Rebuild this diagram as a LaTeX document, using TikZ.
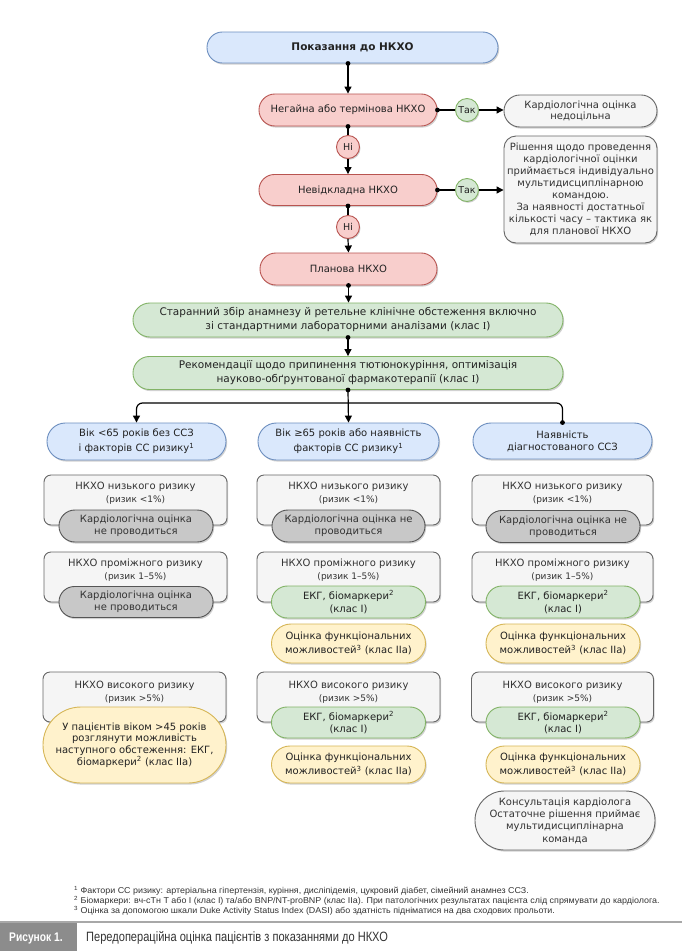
\documentclass[tikz,border=0pt]{standalone}
\usepackage{fontspec}
\setmainfont{DejaVu Sans}
\newfontfamily\serifI{Liberation Serif}
\newfontfamily\condfont[FakeStretch=0.82]{Liberation Sans}
\newfontfamily\fnfont[FakeStretch=1.05]{Liberation Sans}
\usetikzlibrary{arrows.meta,shadows}
\definecolor{bluef}{HTML}{DAE8FC}\definecolor{bluel}{HTML}{6C8EBF}
\definecolor{redf}{HTML}{F8CECC}\definecolor{redl}{HTML}{B85450}
\definecolor{greenf}{HTML}{D5E8D4}\definecolor{greenl}{HTML}{82B366}
\definecolor{yelf}{HTML}{FFF2CC}\definecolor{yell}{HTML}{D6B656}
\definecolor{greyf}{HTML}{F5F5F5}\definecolor{greyl}{HTML}{666666}
\definecolor{darkf}{HTML}{C8C8C8}\definecolor{darkl}{HTML}{555555}
\definecolor{txt}{HTML}{222222}\definecolor{txtg}{HTML}{333333}
\definecolor{rulec}{HTML}{A8A8A8}\definecolor{blockc}{HTML}{8C8C8C}
\tikzset{
  sz/.style 2 args={minimum width=#1pt, minimum height=#2pt},
  rc/.style={rounded corners=#1pt},
  box/.style={draw, line width=0.9pt, align=center, inner sep=0pt, text=txt,
    font=\fontsize{10}{11.7}\selectfont,
    drop shadow={shadow xshift=1.2pt, shadow yshift=-1.6pt, opacity=0.18, fill=black}},
  bbox/.style={box, fill=bluef, draw=bluel},
  rbox/.style={box, fill=redf, draw=redl},
  gbox/.style={box, fill=greenf, draw=greenl},
  ybox/.style={box, fill=yelf, draw=yell},
  lbox/.style={box, fill=greyf, draw=greyl, text=txtg},
  dbox/.style={box, fill=darkf, draw=darkl, text=txtg},
  obox/.style={box, fill=greyf, draw=greyl, rc=7},
  otext/.style={align=center, inner sep=0pt, text=txtg, font=\fontsize{10}{13}\selectfont},
  circ/.style={circle, line width=0.9pt, minimum size=23pt, inner sep=0pt, text=txt,
    font=\fontsize{9.5}{10}\selectfont,
    drop shadow={shadow xshift=1pt, shadow yshift=-1.3pt, opacity=0.18, fill=black}},
  gcirc/.style={circ, fill=greenf, draw=greenl},
  rcirc/.style={circ, fill=redf, draw=redl},
  conn/.style={line width=1.2pt, draw=black},
  arr/.style={conn, -{Triangle[length=7pt,width=7pt]}},
  fn/.style={anchor=north west, inner sep=0pt, align=left, text=txtg, font=\fnfont\fontsize{8.5}{8}\selectfont},
}
\newcommand\dotat[1]{\fill[black] (#1) circle (2.4pt);}
\begin{document}
\begin{tikzpicture}[x=1pt,y=-1pt]
\useasboundingbox (0,0) rectangle (682,951);
\fill[white] (0,0) rectangle (682,951);

% main flow
\node[bbox, sz={291}{31}, rc=15.4, font=\bfseries\fontsize{10.5}{12}\selectfont] (title) at (352.5,47.5) {Показання до НКХО};
\node[rbox, sz={178}{32}, rc=15.9] (neg) at (348,110) {Негайна або термінова НКХО};
\node[gcirc] (tak1) at (467,110) {Так};
\node[lbox, sz={153}{32}, rc=15.9, font=\fontsize{10}{10.5}\selectfont] (nedoc) at (580.5,111) {Кардіологічна оцінка\\недоцільна};
\node[rcirc] (ni1) at (348,147) {Ні};
\node[rbox, sz={178}{31}, rc=15.4] (nevid) at (348,190) {Невідкладна НКХО};
\node[gcirc] (tak2) at (467,190) {Так};
\node[lbox, sz={153}{107}, rc=12, font=\fontsize{10}{12}\selectfont] (indiv) at (580.5,189.5) {Рішення щодо проведення\\кардіологічної оцінки\\приймається індивідуально\\мультидисциплінарною\\командою.\\За наявності достатньої\\кількості часу – тактика як\\для планової НКХО};
\node[rcirc] (ni2) at (348,227) {Ні};
\node[rbox, sz={177}{32}, rc=15.9] (plan) at (348.5,269) {Планова НКХО};
\node[gbox, sz={430}{34}, rc=16.9, font=\fontsize{10.5}{14}\selectfont] (g1) at (348,320) {Старанний збір анамнезу й ретельне клінічне обстеження включно\\зі стандартними лабораторними аналізами (клас {\serifI I})};
\node[gbox, sz={430}{33}, rc=16.4, font=\fontsize{10.5}{14}\selectfont] (g2) at (348,373) {Рекомендації щодо припинення тютюнокуріння, оптимізація\\науково-обґрунтованої фармакотерапії (клас {\serifI I})};

% column heads
\node[bbox, sz={179}{37}, rc=18.4, font=\fontsize{10}{15}\selectfont] (colL) at (136.5,441.5) {Вік <65 років без ССЗ\\і факторів СС ризику\textsuperscript{1}};
\node[bbox, sz={181}{37}, rc=18.4, font=\fontsize{10}{15}\selectfont] (colM) at (348.5,441.5) {Вік ≥65 років або наявність\\факторів СС ризику\textsuperscript{1}};
\node[bbox, sz={179}{36}, rc=17.9, font=\fontsize{10}{12}\selectfont] (colR) at (562.5,441) {Наявність\\діагностованого ССЗ};

% row 1: low risk
\node[obox, sz={183}{50}] (oL1) at (135.5,500) {};
\node[obox, sz={183}{50}] (oM1) at (348.5,500) {};
\node[obox, sz={181}{50}] (oR1) at (562.5,500) {};
\node[otext] (tL1) at (135.5,493.5) {НКХО низького ризику\\{\fontsize{9}{13}\selectfont(ризик <1\%)}};
\node[otext] (tM1) at (348.5,493.5) {НКХО низького ризику\\{\fontsize{9}{13}\selectfont(ризик <1\%)}};
\node[otext] (tR1) at (562.5,493.5) {НКХО низького ризику\\{\fontsize{9}{13}\selectfont(ризик <1\%)}};
\node[dbox, sz={154}{32}, rc=15.9] (pL1) at (136,526) {Кардіологічна оцінка\\не проводиться};
\node[dbox, sz={153}{32}, rc=15.9] (pM1) at (348.5,526) {Кардіологічна оцінка не\\проводиться};
\node[dbox, sz={154}{32}, rc=15.9] (pR1) at (563,526.5) {Кардіологічна оцінка не\\проводиться};

% row 2: intermediate risk
\node[obox, sz={183}{50}] (oL2) at (135.5,577) {};
\node[obox, sz={183}{50}] (oM2) at (348.5,577) {};
\node[obox, sz={181}{50}] (oR2) at (562.5,577) {};
\node[otext] (tL2) at (135.5,570) {НКХО проміжного ризику\\{\fontsize{9}{13}\selectfont(ризик 1–5\%)}};
\node[otext] (tM2) at (348.5,570) {НКХО проміжного ризику\\{\fontsize{9}{13}\selectfont(ризик 1–5\%)}};
\node[otext] (tR2) at (562.5,570) {НКХО проміжного ризику\\{\fontsize{9}{13}\selectfont(ризик 1–5\%)}};
\node[dbox, sz={154}{31}, rc=15.4] (pL2) at (136,602) {Кардіологічна оцінка\\не проводиться};
\node[gbox, sz={154}{32}, rc=15.9, font=\fontsize{10}{12.5}\selectfont] (pM2) at (348.5,602) {ЕКГ, біомаркери\textsuperscript{2}\\(клас I)};
\node[gbox, sz={154}{32}, rc=15.9, font=\fontsize{10}{12.5}\selectfont] (pR2) at (563,602) {ЕКГ, біомаркери\textsuperscript{2}\\(клас I)};
\node[ybox, sz={154}{39}, rc=19.4, font=\fontsize{10}{14}\selectfont] (yM2) at (348.5,643.5) {Оцінка функціональних\\можливостей\textsuperscript{3} (клас IIa)};
\node[ybox, sz={154}{39}, rc=19.4, font=\fontsize{10}{14}\selectfont] (yR2) at (563,643.5) {Оцінка функціональних\\можливостей\textsuperscript{3} (клас IIa)};

% row 3: high risk
\node[obox, sz={183}{50}] (oL3) at (134.5,697) {};
\node[obox, sz={183}{50}] (oM3) at (348.5,697) {};
\node[obox, sz={182}{50}] (oR3) at (562.5,697) {};
\node[otext] (tL3) at (134.5,692) {НКХО високого ризику\\{\fontsize{9}{13}\selectfont(ризик >5\%)}};
\node[otext] (tM3) at (348.5,692) {НКХО високого ризику\\{\fontsize{9}{13}\selectfont(ризик >5\%)}};
\node[otext] (tR3) at (562.5,692) {НКХО високого ризику\\{\fontsize{9}{13}\selectfont(ризик >5\%)}};
\node[ybox, sz={183}{76}, rc=37.9, font=\fontsize{10}{11.8}\selectfont] (yL3) at (134.5,745) {У пацієнтів віком >45 років\\розглянути можливість\\наступного обстеження: ЕКГ,\\біомаркери\textsuperscript{2} (клас IIa)};
\node[gbox, sz={154}{31}, rc=15.4, font=\fontsize{10}{12.5}\selectfont] (pM3) at (348.5,722.5) {ЕКГ, біомаркери\textsuperscript{2}\\(клас I)};
\node[gbox, sz={154}{31}, rc=15.4, font=\fontsize{10}{12.5}\selectfont] (pR3) at (563,722.5) {ЕКГ, біомаркери\textsuperscript{2}\\(клас I)};
\node[ybox, sz={154}{37}, rc=18.4, font=\fontsize{10}{14}\selectfont] (yM3) at (348.5,764.5) {Оцінка функціональних\\можливостей\textsuperscript{3} (клас IIa)};
\node[ybox, sz={154}{37}, rc=18.4, font=\fontsize{10}{14}\selectfont] (yR3) at (563,764.5) {Оцінка функціональних\\можливостей\textsuperscript{3} (клас IIa)};
\node[lbox, sz={180}{59}, rc=29.4, font=\fontsize{10}{12.3}\selectfont] (cons) at (565,820.5) {Консультація кардіолога\\Остаточне рішення приймає\\мультидисциплінарна\\команда};

% connectors
\coordinate (ts) at (neg.north |- title.south);
\draw[arr] (ts) -- (neg.north); \dotat{ts}
\draw[conn] (neg.east) -- (tak1.west); \dotat{neg.east}
\draw[arr] (tak1.east) -- (tak1.east -| nedoc.west);
\draw[conn] (neg.south) -- (ni1.north); \dotat{neg.south}
\draw[arr] (ni1.south) -- (nevid.north);
\draw[conn] (nevid.east) -- (tak2.west); \dotat{nevid.east}
\draw[arr] (tak2.east) -- (tak2.east -| indiv.west);
\draw[conn] (nevid.south) -- (ni2.north); \dotat{nevid.south}
\draw[arr] (ni2.south) -- (plan.north);
\draw[arr] (plan.south) -- (plan.south |- g1.north); \dotat{plan.south}
\draw[arr] (g1.south) -- (g2.north); \dotat{g1.south}
\coordinate (br) at (348,403);
\draw[arr] (g2.south) -- (colM.north); \dotat{g2.south}
\draw[arr, rounded corners=6pt] (br) -| (colL.north);
\draw[conn, rounded corners=6pt] (br) -| (colR.north); \dotat{colR.north}

% footnotes
\node[fn] (fns) at (74,886.5) {\textsuperscript{1} Фактори СС ризику: артеріальна гіпертензія, куріння, дисліпідемія, цукровий діабет, сімейний анамнез ССЗ.\\
\textsuperscript{2} Біомаркери: вч-сТн Т або І (клас І) та/або BNP/NT-proBNP (клас IIa). При патологічних результатах пацієнта слід спрямувати до кардіолога.\\
\textsuperscript{3} Оцінка за допомогою шкали Duke Activity Status Index (DASI) або здатність підніматися на два сходових прольоти.};

% caption bar
\draw[line width=2pt, draw=rulec] (0,921.5) -- (682,921.5);
\fill[blockc] (0,922.5) rectangle (77,951);
\node[anchor=west, inner sep=0pt, text=white, font=\condfont\bfseries\fontsize{12.5}{14}\selectfont] (fig) at (9,938) {Рисунок 1.};
\node[anchor=west, inner sep=0pt, text=txtg, font=\condfont\fontsize{13.5}{15}\selectfont] (cap) at (86,938) {Передопераційна оцінка пацієнтів з показаннями до НКХО};
\end{tikzpicture}
\end{document}
